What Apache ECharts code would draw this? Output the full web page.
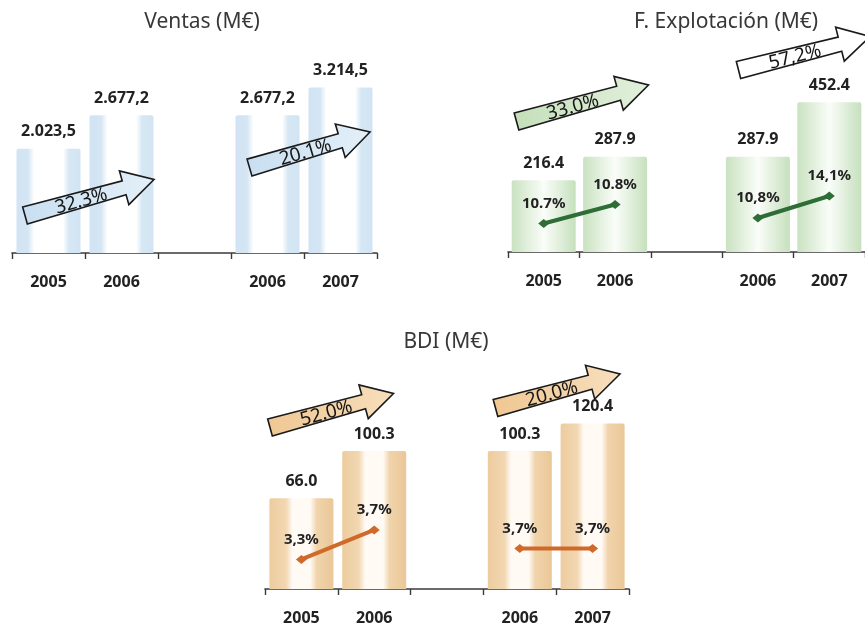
<!DOCTYPE html>
<html>
<head>
<meta charset="utf-8">
<script src="https://cdn.jsdelivr.net/npm/echarts@6/dist/echarts.min.js"></script>
<style>
  html, body { margin: 0; padding: 0; background: #ffffff; }
  #chart { width: 865px; height: 626px; }
</style>
</head>
<body>
<div id="chart"></div>
<script>
// ---- data ----
const categories = ['2005', '2006', '', '2006', '2007'];

const ventas      = [2023.5, 2677.2, null, 2677.2, 3214.5];
const explotacion = [216.4, 287.9, null, 287.9, 452.4];
const bdi         = [66.0, 100.3, null, 100.3, 120.4];

// margin on sales (%), first and second comparison pairs
const margenExpA = [10.7, 10.8, null, null, null];
const margenExpB = [null, null, null, 10.8, 14.1];
const margenBdiA = [3.3, 3.7, null, null, null];
const margenBdiB = [null, null, null, 3.7, 3.7];

// growth printed on the arrows
const crecVentas = ['32.3%', '20.1%'];
const crecExp    = ['33.0%', '57,2%'];
const crecBdi    = ['52.0%', '20.0%'];

const titles = ['Ventas (M€)', 'F. Explotación (M€)', 'BDI (M€)'];

// ---- formatting ----
const FONT = 'Noto Sans';
function fmtEs(v) {
  const parts = v.toFixed(1).split('.');
  return parts[0].replace(/\B(?=(\d{3})+(?!\d))/g, '.') + ',' + parts[1];
}
const fmtDot = v => v.toFixed(1);
const pctDot = v => v.toFixed(1) + '%';
const pctComma = v => v.toFixed(1).replace('.', ',') + '%';

// ---- styles ----
function barGradient(stops) {
  return { type: 'linear', x: 0, y: 0, x2: 1, y2: 0,
    colorStops: stops.map(s => ({ offset: s[0], color: s[1] })) };
}
const blueBar = barGradient([[0, '#d2e4f3'], [0.18, '#d4e6f4'], [0.28, '#ffffff'],
  [0.73, '#ffffff'], [0.82, '#d6e7f4'], [1, '#d2e4f3']]);
const greenBar = barGradient([[0, '#c9e2c0'], [0.5, '#fafdf9'], [1, '#c6e0bd']]);
const tanBar = barGradient([[0, '#edcc9e'], [0.26, '#f2d7b2'], [0.36, '#fffaf4'],
  [0.64, '#fffaf4'], [0.74, '#f1d4ac'], [1, '#eac797']]);

const grids = [
  { left: 12, top: 60, width: 365, height: 193 },
  { left: 508, top: 60, width: 367, height: 192 },
  { left: 265, top: 380, width: 364, height: 212 }
];

function xAxisFor(i) {
  return {
    type: 'category', gridIndex: i, data: categories, offset: 3,
    axisLine: { lineStyle: { color: '#3a3a3a', width: 1.6 } },
    axisTick: { show: true, length: 6, lineStyle: { color: '#3a3a3a', width: 1.4 } },
    axisLabel: { fontFamily: FONT, fontSize: 16, fontWeight: 'bold', color: '#222', margin: 18 },
    splitLine: { show: false }
  };
}
function hiddenY(grid, min, max) {
  return { type: 'value', gridIndex: grid, min: min, max: max, show: false,
    splitLine: { show: false } };
}

const valueLabel = fmt => ({
  show: true, position: 'top', distance: 9,
  fontFamily: FONT, fontSize: 16, fontWeight: 'bold', color: '#222',
  formatter: p => fmt(p.value)
});

function barSeries(i, data, color, fmt) {
  return {
    type: 'bar', xAxisIndex: i, yAxisIndex: i, data: data, barWidth: 64,
    itemStyle: { color: color, borderRadius: [2, 2, 0, 0] },
    label: valueLabel(fmt), silent: true, animation: false
  };
}
function lineSeries(xi, yi, data, color, fmt) {
  return {
    type: 'line', xAxisIndex: xi, yAxisIndex: yi, data: data,
    symbol: 'diamond', symbolSize: [11, 9], connectNulls: false,
    lineStyle: { color: color, width: 4 }, itemStyle: { color: color },
    label: { show: true, position: 'top', distance: 8, fontFamily: FONT,
      fontSize: 15, fontWeight: 'bold', color: '#222',
      formatter: p => fmt(p.value) },
    z: 5, silent: true, animation: false
  };
}

// ---- growth arrows (annotation shapes, pixel layout) ----
function arrow(tail, tip, label, fill) {
  const dx = tip[0] - tail[0], dy = tip[1] - tail[1];
  const L = Math.hypot(dx, dy);
  const u = [dx / L, dy / L], n = [-u[1], u[0]];
  const t0 = 17.5, t1 = 14.5, hw = 35, hl = 31;
  const at = (a, b) => [tail[0] + u[0] * a + n[0] * b, tail[1] + u[1] * a + n[1] * b];
  const pts = [at(0, -t0 / 2), at(L - hl, -t1 / 2), at(L - hl, -hw / 2), [tip[0], tip[1]],
    at(L - hl, hw / 2), at(L - hl, t1 / 2), at(0, t0 / 2)];
  const c = at(58, 1.5);
  return [
    { type: 'polygon', z: 100, silent: true,
      shape: { points: pts },
      style: { fill: fill, stroke: '#1a1a1a', lineWidth: 1.6, lineJoin: 'miter' } },
    { type: 'text', z: 101, silent: true, x: c[0], y: c[1], rotation: -Math.atan2(dy, dx),
      style: { text: label, font: '19px "Noto Sans"', fill: '#151515',
        textAlign: 'center', textVerticalAlign: 'middle', align: 'center', verticalAlign: 'middle' } }
  ];
}
const fillBlue  = barGradient([[0, '#c8def0'], [1, '#e4f0f9']]);
const fillGreen = barGradient([[0, '#c4dfba'], [1, '#e2f0dc']]);
const fillTan   = barGradient([[0, '#efc792'], [1, '#f7dfbd']]);

const graphics = [].concat(
  arrow([25, 215.5], [154, 179.5], crecVentas[0], fillBlue),
  arrow([249.5, 167.5], [370, 132], crecVentas[1], fillBlue),
  arrow([516.5, 121.5], [648.5, 85], crecExp[0], fillGreen),
  arrow([738.5, 70], [870, 36.5], crecExp[1], '#ffffff'),
  arrow([270, 427.5], [393.5, 393.5], crecBdi[0], fillTan),
  arrow([495.5, 408], [620, 374], crecBdi[1], fillTan)
);

const titleCenters = [[202, 12], [726, 12], [446, 332]];

const option = {
  backgroundColor: '#ffffff',
  animation: false,
  textStyle: { fontFamily: FONT },
  title: titles.map((t, i) => ({
    text: t, left: titleCenters[i][0], top: titleCenters[i][1], textAlign: 'center', padding: 0,
    textStyle: { fontFamily: FONT, fontSize: 21, fontWeight: 'normal', color: '#383838' }
  })),
  grid: grids,
  xAxis: [xAxisFor(0), xAxisFor(1), xAxisFor(2)],
  yAxis: [
    hiddenY(0, 0, 3750),
    hiddenY(1, 0, 580),
    hiddenY(2, 0, 152),
    hiddenY(1, 10.55, 11.56),
    hiddenY(1, 5.7, 34.5),
    hiddenY(2, 2.9, 5.73),
    hiddenY(2, 0, 19.1)
  ],
  series: [
    barSeries(0, ventas, blueBar, fmtEs),
    barSeries(1, explotacion, greenBar, fmtDot),
    barSeries(2, bdi, tanBar, fmtDot),
    lineSeries(1, 3, margenExpA, '#2e6d35', pctDot),
    lineSeries(1, 4, margenExpB, '#2e6d35', pctComma),
    lineSeries(2, 5, margenBdiA, '#cf6a2a', pctComma),
    lineSeries(2, 6, margenBdiB, '#cf6a2a', pctComma)
  ],
  graphic: { elements: graphics }
};

const chart = echarts.init(document.getElementById('chart'), null, { renderer: 'canvas' });
chart.setOption(option);
</script>
</body>
</html>
